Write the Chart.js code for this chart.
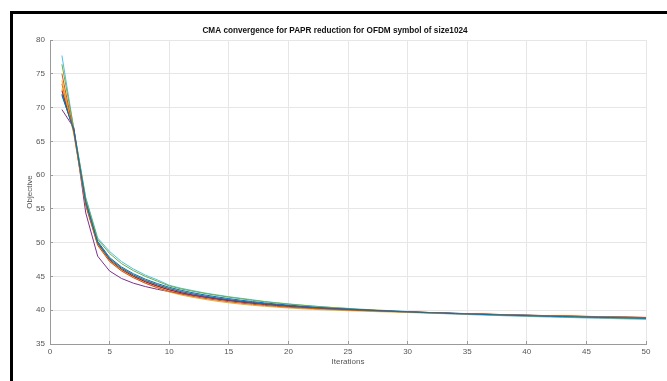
<!DOCTYPE html>
<html>
<head>
<meta charset="utf-8">
<script src="https://cdn.jsdelivr.net/npm/chart.js@4"></script>
<style>
  html, body { margin: 0; padding: 0; background: #fff; }
  #wrap { position: relative; width: 667px; height: 381px; overflow: hidden; }
  #frame {
    position: absolute; left: 10px; top: 11px; width: 720px; height: 420px;
    border-left: 3px solid #000; border-top: 3px solid #000; pointer-events: none;
  }
</style>
</head>
<body>
<div id="wrap">
  <canvas id="chart" width="667" height="381"></canvas>
  <div id="frame"></div>
</div>
<script>
const iterations = [1, 2, 3, 4, 5, 6, 7, 8, 9, 10, 11, 12, 13, 14, 15, 16, 17, 18, 19, 20,
  21, 22, 23, 24, 25, 26, 27, 28, 29, 30, 31, 32, 33, 34, 35, 36, 37, 38, 39, 40,
  41, 42, 43, 44, 45, 46, 47, 48, 49, 50];

const run1 = [72.0, 66.6, 56.0, 50.0, 47.6, 46.2, 45.2, 44.4, 43.75, 43.2, 42.75, 42.4, 42.08, 41.8, 41.55, 41.33, 41.13, 40.95, 40.79, 40.65,
  40.52, 40.41, 40.31, 40.22, 40.13, 40.05, 39.97, 39.89, 39.82, 39.75, 39.68, 39.62, 39.56, 39.5, 39.44, 39.39, 39.34, 39.29, 39.24, 39.2,
  39.15, 39.11, 39.07, 39.03, 38.99, 38.95, 38.92, 38.88, 38.85, 38.82];
const run2 = [75.0, 66.3, 55.5, 49.6, 47.2, 45.8, 44.8, 44.0, 43.35, 42.8, 42.4, 42.05, 41.75, 41.5, 41.26, 41.06, 40.88, 40.72, 40.58, 40.45,
  40.35, 40.26, 40.18, 40.1, 40.03, 39.97, 39.91, 39.85, 39.8, 39.75, 39.7, 39.65, 39.6, 39.55, 39.5, 39.45, 39.4, 39.36, 39.31, 39.27,
  39.23, 39.19, 39.15, 39.12, 39.08, 39.05, 39.01, 38.98, 38.95, 38.92];
const run3 = [74.0, 66.0, 55.6, 49.7, 47.3, 45.9, 44.85, 44.0, 43.3, 42.7, 42.25, 41.9, 41.6, 41.33, 41.1, 40.9, 40.73, 40.58, 40.45, 40.33,
  40.23, 40.14, 40.06, 39.99, 39.93, 39.87, 39.81, 39.76, 39.71, 39.66, 39.61, 39.57, 39.52, 39.48, 39.44, 39.4, 39.36, 39.32, 39.28, 39.24,
  39.2, 39.17, 39.13, 39.1, 39.06, 39.03, 39.0, 38.97, 38.94, 38.91];
const run4 = [69.7, 67.0, 54.4, 48.0, 45.8, 44.7, 44.0, 43.5, 43.1, 42.75, 42.45, 42.2, 41.95, 41.72, 41.5, 41.3, 41.12, 40.95, 40.8, 40.66,
  40.54, 40.43, 40.33, 40.24, 40.16, 40.08, 40.0, 39.92, 39.85, 39.78, 39.71, 39.65, 39.59, 39.53, 39.48, 39.43, 39.38, 39.33, 39.29, 39.24,
  39.2, 39.16, 39.12, 39.08, 39.04, 39.01, 38.97, 38.94, 38.91, 38.88];
const run5 = [76.4, 66.9, 56.5, 50.5, 48.4, 46.9, 45.85, 45.0, 44.3, 43.6, 43.15, 42.8, 42.48, 42.2, 41.93, 41.7, 41.47, 41.25, 41.07, 40.9,
  40.75, 40.61, 40.48, 40.37, 40.27, 40.16, 40.07, 39.98, 39.89, 39.8, 39.72, 39.64, 39.57, 39.5, 39.44, 39.38, 39.32, 39.27, 39.21, 39.16,
  39.11, 39.07, 39.02, 38.98, 38.94, 38.9, 38.86, 38.82, 38.79, 38.75];
const run6 = [77.7, 66.8, 56.7, 50.7, 48.7, 47.2, 46.1, 45.2, 44.5, 43.7, 43.25, 42.9, 42.55, 42.27, 42.0, 41.77, 41.54, 41.3, 41.12, 40.94,
  40.78, 40.63, 40.49, 40.36, 40.24, 40.1, 40.0, 39.9, 39.81, 39.72, 39.64, 39.56, 39.49, 39.42, 39.36, 39.3, 39.24, 39.19, 39.13, 39.08,
  39.03, 38.99, 38.94, 38.9, 38.85, 38.81, 38.77, 38.73, 38.69, 38.65];
const run7 = [72.5, 66.4, 55.7, 49.8, 47.4, 46.0, 45.0, 44.2, 43.55, 43.0, 42.58, 42.22, 41.92, 41.65, 41.42, 41.21, 41.02, 40.85, 40.7, 40.57,
  40.45, 40.34, 40.24, 40.15, 40.07, 39.99, 39.92, 39.85, 39.79, 39.73, 39.67, 39.61, 39.56, 39.51, 39.46, 39.41, 39.37, 39.32, 39.28, 39.24,
  39.2, 39.16, 39.12, 39.09, 39.05, 39.02, 38.99, 38.96, 38.93, 38.9];
const run8 = [71.8, 66.7, 56.2, 50.2, 47.8, 46.4, 45.4, 44.6, 43.95, 43.4, 42.95, 42.58, 42.26, 41.98, 41.72, 41.49, 41.28, 41.09, 40.92, 40.77,
  40.63, 40.5, 40.38, 40.27, 40.17, 40.08, 39.99, 39.91, 39.83, 39.76, 39.69, 39.62, 39.56, 39.5, 39.44, 39.38, 39.33, 39.28, 39.23, 39.18,
  39.13, 39.09, 39.04, 39.0, 38.96, 38.92, 38.88, 38.84, 38.8, 38.77];
const run9 = [73.5, 66.5, 55.9, 49.9, 47.45, 46.05, 45.05, 44.25, 43.6, 43.05, 42.6, 42.25, 41.95, 41.68, 41.44, 41.23, 41.04, 40.87, 40.72, 40.58,
  40.46, 40.35, 40.25, 40.16, 40.08, 40.0, 39.93, 39.86, 39.8, 39.74, 39.68, 39.63, 39.58, 39.53, 39.48, 39.44, 39.4, 39.35, 39.31, 39.27,
  39.23, 39.2, 39.16, 39.13, 39.09, 39.06, 39.03, 39.0, 38.97, 38.94];
const run10 = [72.8, 66.6, 56.1, 50.1, 47.7, 46.3, 45.25, 44.45, 43.8, 43.25, 42.8, 42.43, 42.11, 41.83, 41.58, 41.36, 41.16, 40.98, 40.82, 40.68,
  40.55, 40.43, 40.32, 40.22, 40.13, 40.05, 39.97, 39.9, 39.83, 39.77, 39.71, 39.65, 39.59, 39.54, 39.49, 39.44, 39.39, 39.35, 39.3, 39.26,
  39.22, 39.18, 39.14, 39.1, 39.07, 39.03, 39.0, 38.97, 38.94, 38.91];

const runs = [run1, run2, run3, run4, run5, run6, run7, run8, run9, run10];
// matlab default line order
const lineColors = ["#0072BD", "#D95319", "#EDB120", "#7E2F8E", "#77AC30", "#4DBEEE", "#A2142F", "#0072BD", "#D95319", "#EDB120"];

const xTicks = [0, 5, 10, 15, 20, 25, 30, 35, 40, 45, 50];
const yTicks = [35, 40, 45, 50, 55, 60, 65, 70, 75, 80];
const titleText = "CMA convergence for PAPR reduction for OFDM symbol of size1024";

const fontFamily = "'Liberation Sans', Arial, Helvetica, sans-serif";
const gridColor = "#e6e6e6";
const axisColor = "#9a9a9a";
const tickTextColor = "#555555";

// the figure title sits a bit left of the axes centre, so draw it by hand
const plotTitle = {
  id: "plotTitle",
  afterDraw(chart) {
    const ctx = chart.ctx;
    ctx.save();
    ctx.font = "bold 8.2px " + fontFamily;
    ctx.fillStyle = "#111";
    ctx.textAlign = "center";
    ctx.textBaseline = "middle";
    ctx.fillText(titleText, 335, 31);
    ctx.restore();
  },
};

window.addEventListener("DOMContentLoaded", function() {
  const datasets = runs.map((run, i) => ({
    data: iterations.map((it, j) => ({ x: it, y: run[j] })),
    borderColor: lineColors[i],
    borderWidth: 1,
    pointRadius: 0,
    fill: false,
    tension: 0,
  }));

  new Chart(document.getElementById("chart").getContext("2d"), {
    type: "line",
    data: { datasets: datasets },
    plugins: [plotTitle],
    options: {
      animation: false,
      responsive: false,
      events: [],
      layout: {
        padding: { top: 40, right: 21, bottom: 0, left: 0 },
      },
      plugins: {
        legend: { display: false },
        tooltip: { enabled: false },
        title: { display: false },
      },
      scales: {
        x: {
          type: "linear",
          min: 0,
          max: 50,
          afterBuildTicks: axis => { axis.ticks = xTicks.map(v => ({ value: v })); },
          afterFit: axis => { axis.height = 37; },
          grid: { color: gridColor, tickColor: axisColor, tickLength: -3 },
          border: { color: axisColor },
          ticks: {
            color: tickTextColor,
            font: { family: fontFamily, size: 8 },
            padding: 6,
            maxRotation: 0,
          },
          title: {
            display: true,
            text: "Iterations",
            color: tickTextColor,
            font: { family: fontFamily, size: 8 },
            padding: { top: 0, bottom: 14 },
          },
        },
        y: {
          type: "linear",
          min: 35,
          max: 80,
          afterBuildTicks: axis => { axis.ticks = yTicks.map(v => ({ value: v })); },
          afterFit: axis => { axis.width = 50; },
          grid: { color: gridColor, tickColor: axisColor, tickLength: -3 },
          border: { color: axisColor },
          ticks: {
            color: tickTextColor,
            font: { family: fontFamily, size: 8 },
            padding: 8,
          },
          title: {
            display: true,
            text: "Objective",
            color: tickTextColor,
            font: { family: fontFamily, size: 8 },
            padding: { top: 25, bottom: 0 },
          },
        },
      },
    },
  });
});
</script>
</body>
</html>
